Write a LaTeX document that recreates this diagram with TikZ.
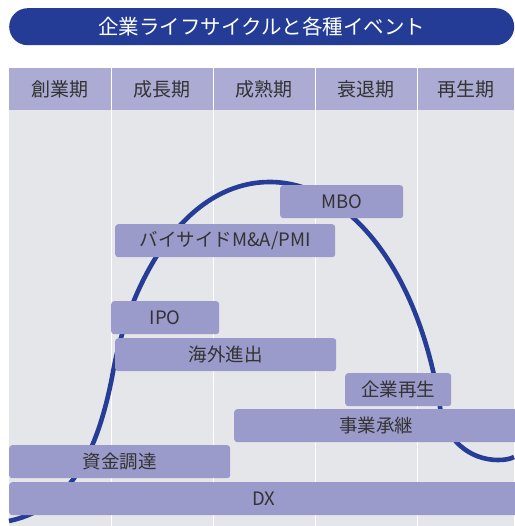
\documentclass[tikz,border=0pt]{standalone}
\usepackage{fontspec}
\setmainfont{Noto Sans CJK JP}
\newfontfamily\jpfont{Noto Sans CJK JP}
\definecolor{titleblue}{HTML}{253C96}
\definecolor{curveblue}{HTML}{253D97}
\definecolor{headfill}{HTML}{ABABD3}
\definecolor{boxfill}{HTML}{9B9BCB}
\definecolor{bggray}{HTML}{E5E6E9}
\definecolor{txtgray}{HTML}{333333}
\tikzset{
  evbox/.style={fill=boxfill, rounded corners=3pt, inner sep=0pt, anchor=north west,
    text=txtgray, font=\jpfont\fontsize{18.5}{20}\selectfont},
  headbox/.style={fill=headfill, inner sep=0pt, anchor=north west, minimum height=42pt,
    text=txtgray, font=\jpfont\fontsize{19}{21}\selectfont},
  sepline/.style={white, line width=1pt},
}
\begin{document}
\begin{tikzpicture}[x=1pt,y=-1pt]
\useasboundingbox (0,0) rectangle (514,526);
\fill[white] (0,0) rectangle (514,526);
% title bar
\node[fill=titleblue, rounded corners=18.5pt, minimum width=505pt, minimum height=37pt,
  inner sep=0pt, anchor=north west, text=white, font=\jpfont\fontsize{20.5}{22}\selectfont]
  (title) at (9,8) {企業ライフサイクルと各種イベント};
% background
\fill[bggray] (9,110) rectangle (514,526);
% header cells
\node[headbox, minimum width=102pt] (h1) at (9,68) {創業期};
\node[headbox, minimum width=102pt] (h2) at (111,68) {成長期};
\node[headbox, minimum width=102pt] (h3) at (213,68) {成熟期};
\node[headbox, minimum width=102pt] (h4) at (315,68) {衰退期};
\node[headbox, minimum width=97pt] (h5) at (417,68) {再生期};
% separators
\foreach \x in {111,213,315,417} \draw[sepline] (\x,68) -- (\x,526);
% life cycle curve
\coordinate (c0) at (9,521);
\coordinate (c1) at (113,372);
\coordinate (c2) at (270,182);
\coordinate (c3) at (440,407);
\coordinate (c4) at (498,460);
\coordinate (c5) at (514,457);
\draw[curveblue, line width=4.6pt]
  (c0) .. controls (60,510) and (95,470) .. (c1)
       .. controls (130,280) and (185,182) .. (c2)
       .. controls (345,182) and (418,265) .. (c3)
       .. controls (445,440) and (470,460) .. (c4)
       .. controls (505,460) and (510,459) .. (c5);
% events
\node[evbox, minimum width=123pt, minimum height=33pt] (mbo) at (280,185) {MBO};
\node[evbox, minimum width=220pt, minimum height=33pt] (buy) at (115,224) {バイサイドM\&A/PMI};
\node[evbox, minimum width=108pt, minimum height=33pt] (ipo) at (111,301) {IPO};
\node[evbox, minimum width=221pt, minimum height=33pt] (kaigai) at (115,338) {海外進出};
\node[evbox, minimum width=106pt, minimum height=33pt] (saisei) at (345,373) {企業再生};
\node[evbox, minimum width=284pt, minimum height=33pt] (shoukei) at (234,409) {事業承継};
\node[evbox, minimum width=221pt, minimum height=33pt] (shikin) at (9,445) {資金調達};
\node[evbox, minimum width=509pt, minimum height=33pt] (dx) at (9,482) {DX};
\end{tikzpicture}
\end{document}
